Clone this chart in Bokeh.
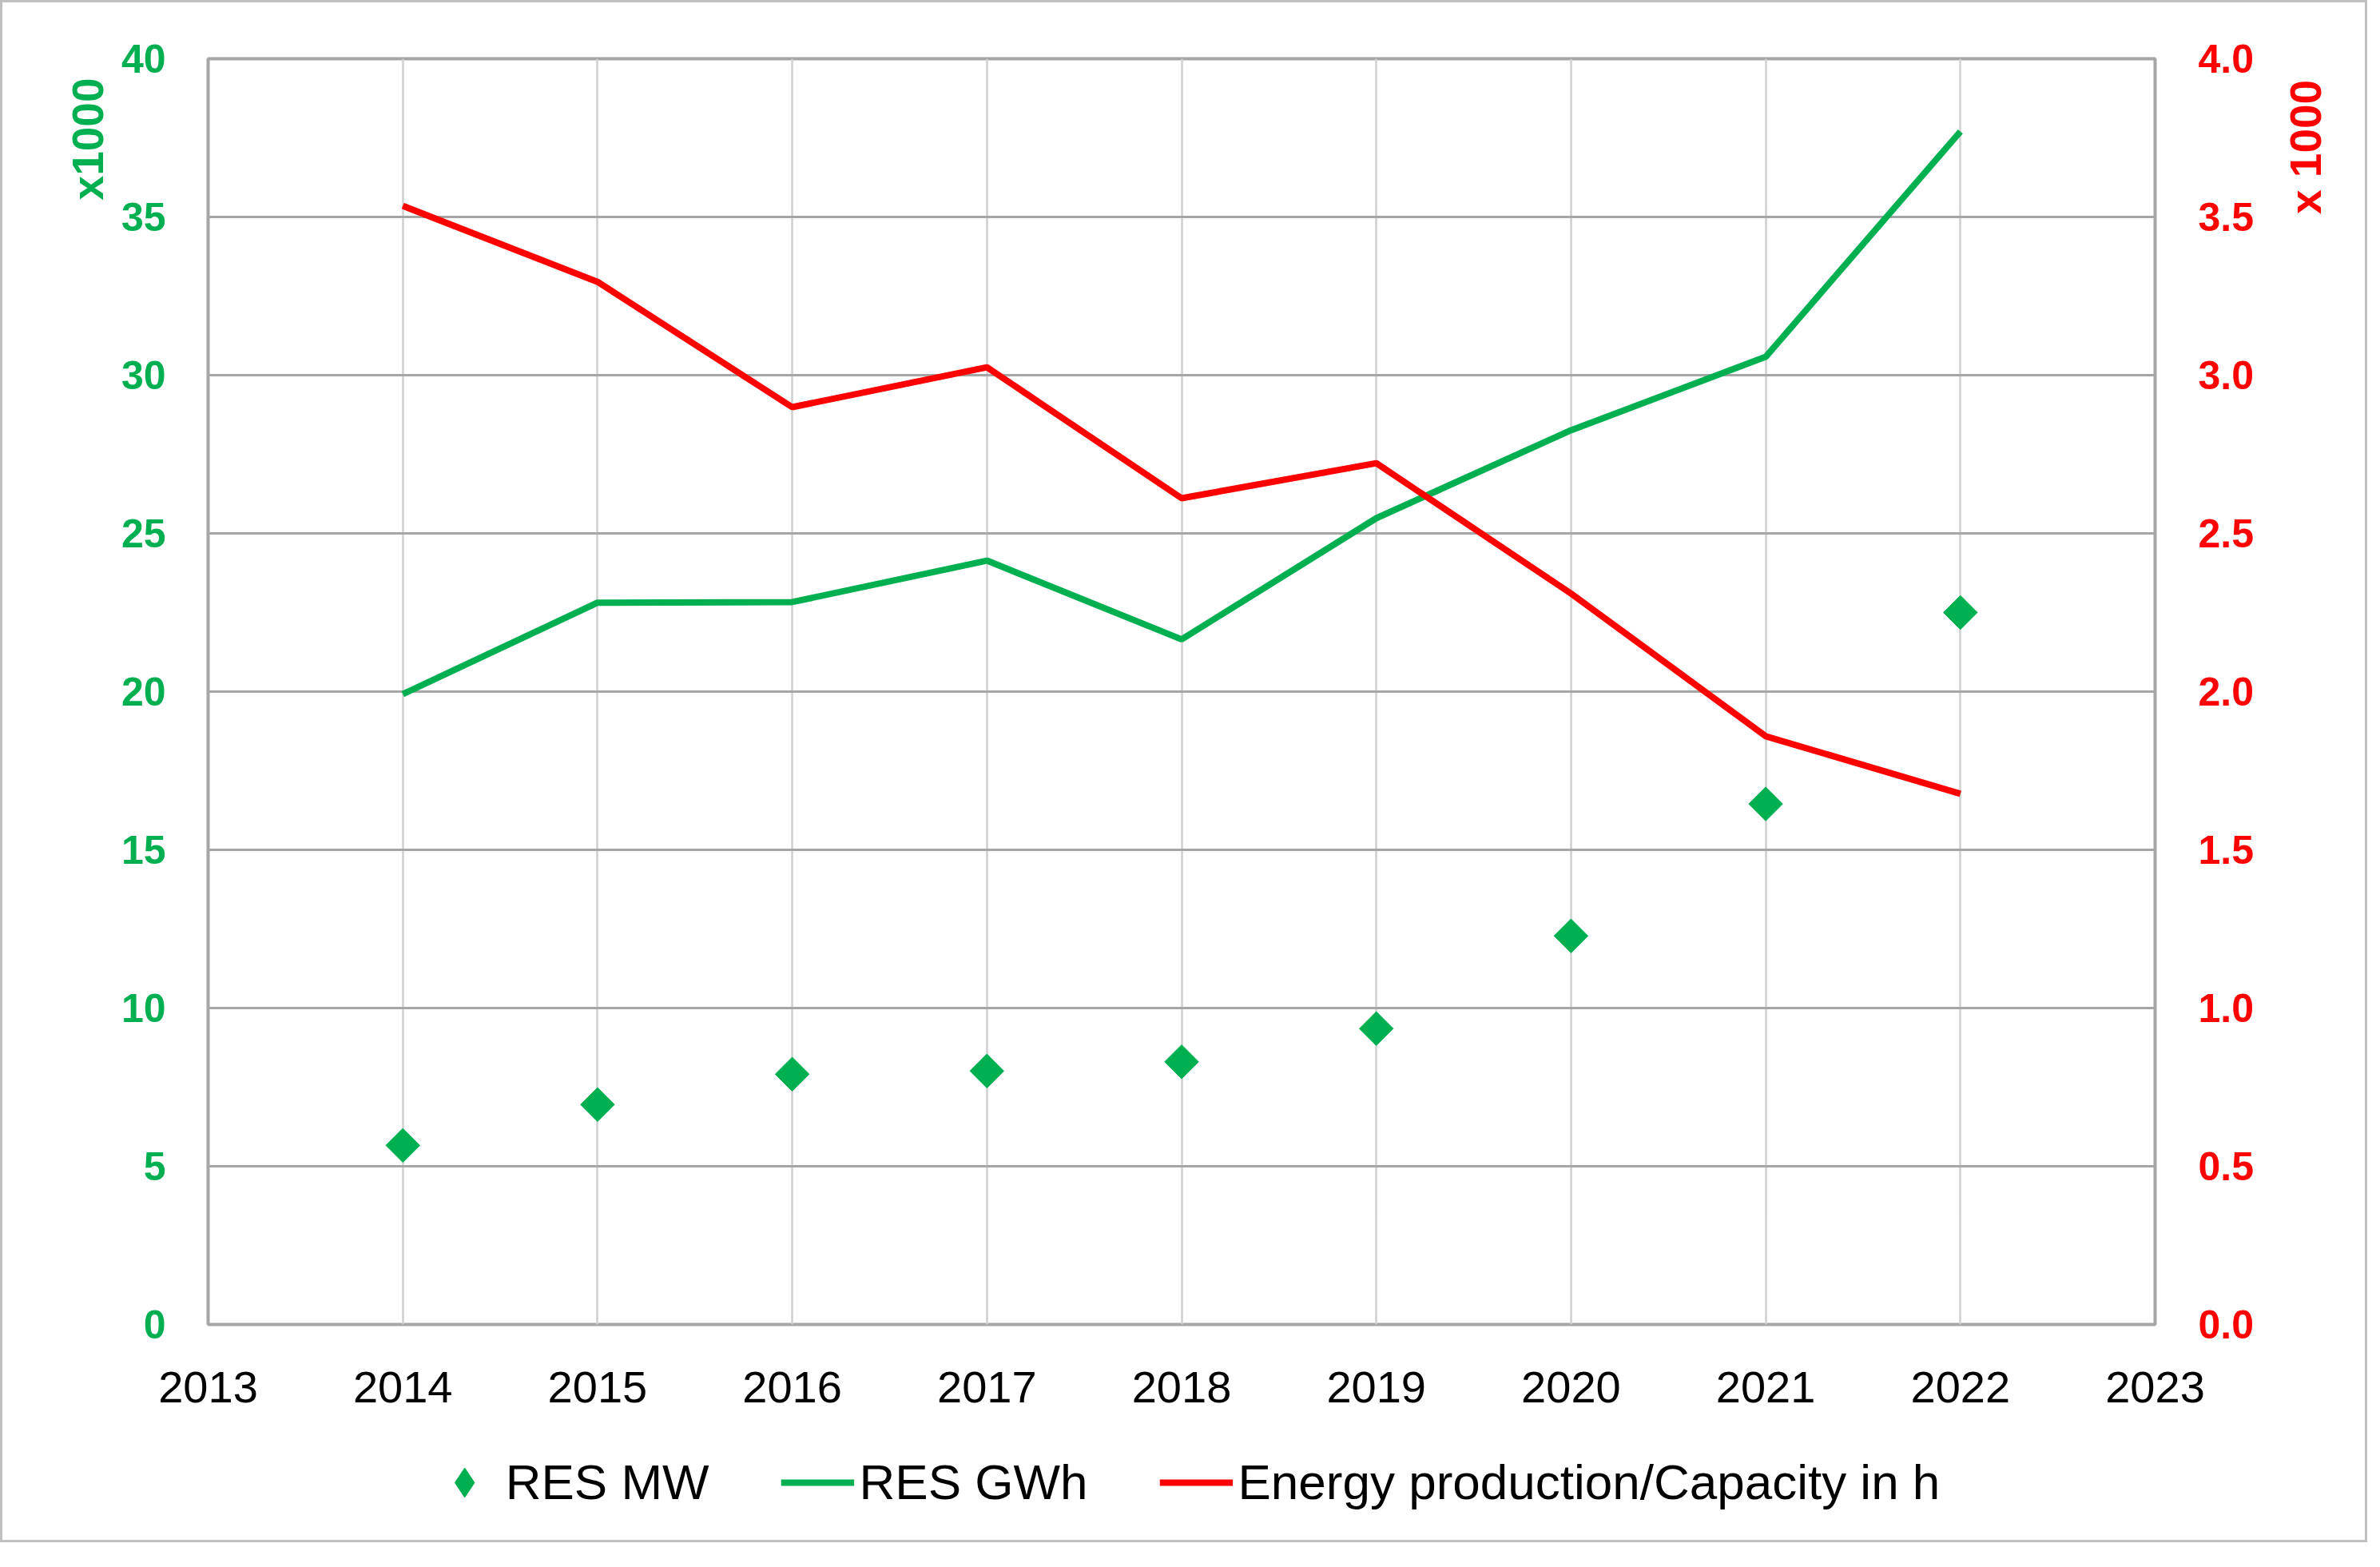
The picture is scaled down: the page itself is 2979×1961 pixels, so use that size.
import numpy as np
from bokeh.plotting import figure
from bokeh.layouts import column, row
from bokeh.models import (LinearAxis, Range1d, FixedTicker, Legend, Title, Label,
                          LegendItem, NumeralTickFormatter)
from bokeh.embed import file_html
from bokeh.resources import INLINE

# ---- data ----
years = [2014, 2015, 2016, 2017, 2018, 2019, 2020, 2021, 2022]
res_mw = [5.66, 6.95, 7.91, 8.01, 8.30, 9.35, 12.28, 16.45, 22.5]      # x1000
res_gwh = [19.92, 22.81, 22.83, 24.14, 21.65, 25.48, 28.26, 30.58, 37.7]  # x1000
ratio_h = [3.535, 3.295, 2.899, 3.025, 2.611, 2.722, 2.31, 1.859, 1.677]  # x1000
x_ticks = list(range(2013, 2024))
left_ticks = [0, 5, 10, 15, 20, 25, 30, 35, 40]
right_ticks = [0.0, 0.5, 1.0, 1.5, 2.0, 2.5, 3.0, 3.5, 4.0]
labels = ["RES MW", "RES GWh", "Energy production/Capacity in h"]

GREEN = "#00b050"
RED = "#ff0000"
FONT = "Liberation Sans"


def bare(axis):
    axis.axis_line_color = None
    axis.major_tick_line_color = None
    axis.minor_tick_line_color = None
    axis.major_tick_out = 0
    axis.major_tick_in = 0


def blank(fig):
    fig.outline_line_color = None
    fig.xgrid.visible = False
    fig.ygrid.visible = False


p = figure(width=2837, height=1779,
           x_range=Range1d(2013, 2023), y_range=Range1d(0, 40),
           output_backend="svg", toolbar_location=None,
           min_border_left=257, min_border_right=143,
           min_border_top=70, min_border_bottom=125,
           background_fill_color="white", border_fill_color="white")
p.extra_y_ranges = {"right": Range1d(0, 4)}
p.outline_line_color = "#a6a6a6"
p.outline_line_width = 4

# x axis
xa = p.xaxis[0]
xa.ticker = FixedTicker(ticks=x_ticks)
xa.major_label_text_font = FONT
xa.major_label_text_font_size = "56px"
xa.major_label_text_color = "#000000"
xa.major_label_standoff = 59
bare(xa)

# left axis
ya = p.yaxis[0]
ya.ticker = FixedTicker(ticks=left_ticks)
ya.major_label_text_font = FONT
ya.major_label_text_font_size = "50px"
ya.major_label_text_font_style = "bold"
ya.major_label_text_color = GREEN
ya.major_label_standoff = 53
bare(ya)

# right axis
ra = LinearAxis(y_range_name="right", ticker=FixedTicker(ticks=right_ticks),
                formatter=NumeralTickFormatter(format="0.0"))
ra.major_label_text_font = FONT
ra.major_label_text_font_size = "50px"
ra.major_label_text_font_style = "bold"
ra.major_label_text_color = RED
ra.major_label_standoff = 54
bare(ra)
p.add_layout(ra, "right")

# left axis title, near the top
p.add_layout(Title(text="x1000", align="right", offset=24, standoff=15,
                   text_font=FONT, text_font_size="55px",
                   text_font_style="bold", text_color=GREEN), "left")

# grids
p.ygrid.ticker = FixedTicker(ticks=left_ticks)
p.ygrid.grid_line_color = "#a6a6a6"
p.ygrid.grid_line_width = 3
p.xgrid.ticker = FixedTicker(ticks=x_ticks)
p.xgrid.grid_line_color = "#d0d0d0"
p.xgrid.grid_line_width = 2.5

# series
gwh = p.line(years, res_gwh, line_color=GREEN, line_width=8)
ratio = p.line(years, ratio_h, line_color=RED, line_width=8, y_range_name="right")
mw = p.scatter(years, res_mw, marker="square", angle=np.pi / 4, size=30,
               fill_color=GREEN, line_color=GREEN)

# right axis title strip (rotated text reading upwards, near the top)
r = figure(width=120, height=1779, x_range=Range1d(0, 1), y_range=Range1d(0, 1),
           output_backend="svg", toolbar_location=None,
           x_axis_location=None, y_axis_location=None,
           min_border_left=0, min_border_right=0, min_border_top=0, min_border_bottom=0,
           background_fill_color="white", border_fill_color="white")
blank(r)
r.add_layout(Label(x=0.375, y=0.9303, text="x 1000", angle=np.pi / 2,
                   text_align="center", text_baseline="middle",
                   text_font=FONT, text_font_size="55px",
                   text_font_style="bold", text_color=RED))

# legend strip below the chart (its swatch renderers lie outside its own ranges)
q = figure(width=2957, height=145, x_range=Range1d(0, 1), y_range=Range1d(0, 1),
           output_backend="svg", toolbar_location=None,
           x_axis_location=None, y_axis_location=None,
           min_border_left=0, min_border_right=0, min_border_top=0, min_border_bottom=0,
           background_fill_color="white", border_fill_color="white")
blank(q)
l_mw = q.scatter(years, res_mw, marker="diamond", fill_color=GREEN, line_color=GREEN)
l_gwh = q.line(years, res_gwh, line_color=GREEN, line_width=8)
l_ratio = q.line(years, ratio_h, line_color=RED, line_width=8)
legend = Legend(items=[LegendItem(label=labels[0], renderers=[l_mw]),
                       LegendItem(label=labels[1], renderers=[l_gwh]),
                       LegendItem(label=labels[2], renderers=[l_ratio])],
                orientation="horizontal", location="center",
                glyph_width=92, glyph_height=100, label_height=92,
                label_standoff=6, spacing=90, padding=0, margin=0,
                label_text_font=FONT, label_text_font_size="62px",
                label_text_color="#000000",
                border_line_color=None, background_fill_alpha=0)
q.add_layout(legend)

page = column(row(p, r), q, styles={"border": "3px solid #c0c0c0"})

open("out.html", "w").write(file_html(page, INLINE))
